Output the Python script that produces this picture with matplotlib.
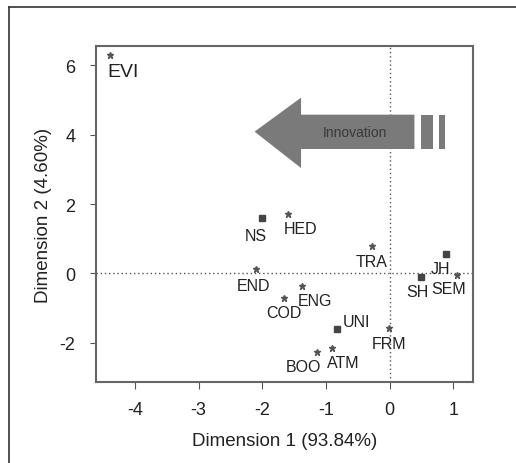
import matplotlib
matplotlib.use("Agg")
import matplotlib.pyplot as plt
from matplotlib.patches import Polygon, Rectangle
from matplotlib.lines import Line2D

plt.rcParams["font.family"] = ["Liberation Sans", "DejaVu Sans"]

# Correspondence map coordinates
labels = ["EVI", "NS", "HED", "TRA", "JH", "SH", "SEM", "END", "ENG",
          "COD", "UNI", "FRM", "ATM", "BOO"]
dim1 = [-4.39, -2.01, -1.60, -0.28, 0.89, 0.50, 1.06, -2.09, -1.37,
        -1.66, -0.83, -0.01, -0.91, -1.14]
dim2 = [6.31, 1.59, 1.71, 0.80, 0.55, -0.10, -0.03, 0.14, -0.37,
        -0.71, -1.59, -1.57, -2.14, -2.27]
kind = ["star", "box", "star", "star", "box", "box", "star", "star", "star",
        "star", "box", "star", "star", "star"]
x_ticks = [-4, -3, -2, -1, 0, 1]
y_ticks = [-2, 0, 2, 4, 6]

# label placement (offset in points, ha, va, size)
place = {
    "EVI": ((-2, -6), "left", "top", 14),
    "NS": ((-4, -7), "center", "top", 11.5),
    "HED": ((-3, -5), "left", "top", 11.5),
    "TRA": ((0, -6), "center", "top", 11.5),
    "JH": ((-4, -5), "center", "top", 11.5),
    "SH": ((-3, -5), "center", "top", 11.5),
    "SEM": ((-6, -5), "center", "top", 11.5),
    "END": ((-2, -7), "center", "top", 11.5),
    "ENG": ((-3, -5), "left", "top", 11.5),
    "COD": ((0, -5), "center", "top", 11.5),
    "UNI": ((4, 0), "left", "bottom", 11.5),
    "FRM": ((0, -6), "center", "top", 11.5),
    "ATM": ((-3, -5), "left", "top", 11.5),
    "BOO": ((3, -5), "right", "top", 11.5),
}

fig = plt.figure(figsize=(5.16, 4.64), dpi=100)
ax = fig.add_axes([96 / 516, 1 - 383 / 464, 377 / 516, 336 / 464])

# outer frame
fig.add_artist(Line2D([9 / 516, 1], [1 - 8 / 464, 1 - 8 / 464], color="#333333", lw=1.2))
fig.add_artist(Line2D([9 / 516, 9 / 516], [0, 1 - 8 / 464], color="#333333", lw=1.2))

ax.set_xlim(-4.61, 1.31)
ax.set_ylim(-3.13, 6.56)

ax.axhline(0, color="#555555", lw=1, ls=(0, (1, 2)), zorder=1)
ax.axvline(0, color="#555555", lw=1, ls=(0, (1, 2)), zorder=1)

# arrow graphic
grey = "#7a7a7a"
arrow = Polygon([(-2.12, 4.09), (-1.39, 5.07), (-1.39, 4.58), (0.39, 4.58),
                 (0.39, 3.59), (-1.39, 3.59), (-1.39, 3.04)],
                closed=True, facecolor=grey, edgecolor="none", zorder=2)
ax.add_patch(arrow)
ax.add_patch(Rectangle((0.50, 3.59), 0.18, 0.99, facecolor=grey, edgecolor="none", zorder=2))
ax.add_patch(Rectangle((0.77, 3.59), 0.10, 0.99, facecolor=grey, edgecolor="none", zorder=2))
ax.text(-0.55, 4.09, "Innovation", ha="center", va="center", fontsize=10,
        color="#3a3a3a", zorder=3)

for name, x, y, k in zip(labels, dim1, dim2, kind):
    if k == "box":
        ax.plot(x, y, marker="s", ms=5, color="#444444", mec="#444444", zorder=4)
    else:
        ax.plot(x, y, marker="*", ms=5, color="#555555", mec="#555555", zorder=4)
    off, ha, va, fs = place[name]
    ax.annotate(name, (x, y), xytext=off, textcoords="offset points",
                ha=ha, va=va, fontsize=fs, color="#222222", zorder=5)

ax.set_xticks(x_ticks)
ax.set_yticks(y_ticks)
ax.set_xticklabels([str(v) for v in x_ticks])
ax.set_yticklabels([str(v) for v in y_ticks])
ax.tick_params(axis="x", labelsize=13, colors="#222222", length=5, pad=9, color="#555555")
ax.tick_params(axis="y", labelsize=13, colors="#222222", length=4, pad=11, color="#555555")
for s in ax.spines.values():
    s.set_color("#666666")
    s.set_linewidth(1.5)

ax.set_xlabel("Dimension 1 (93.84%)", fontsize=13.5, color="#222222", labelpad=10)
ax.set_ylabel("Dimension 2 (4.60%)", fontsize=13.5, color="#222222", labelpad=5)

fig.savefig("out.png", dpi=100)
